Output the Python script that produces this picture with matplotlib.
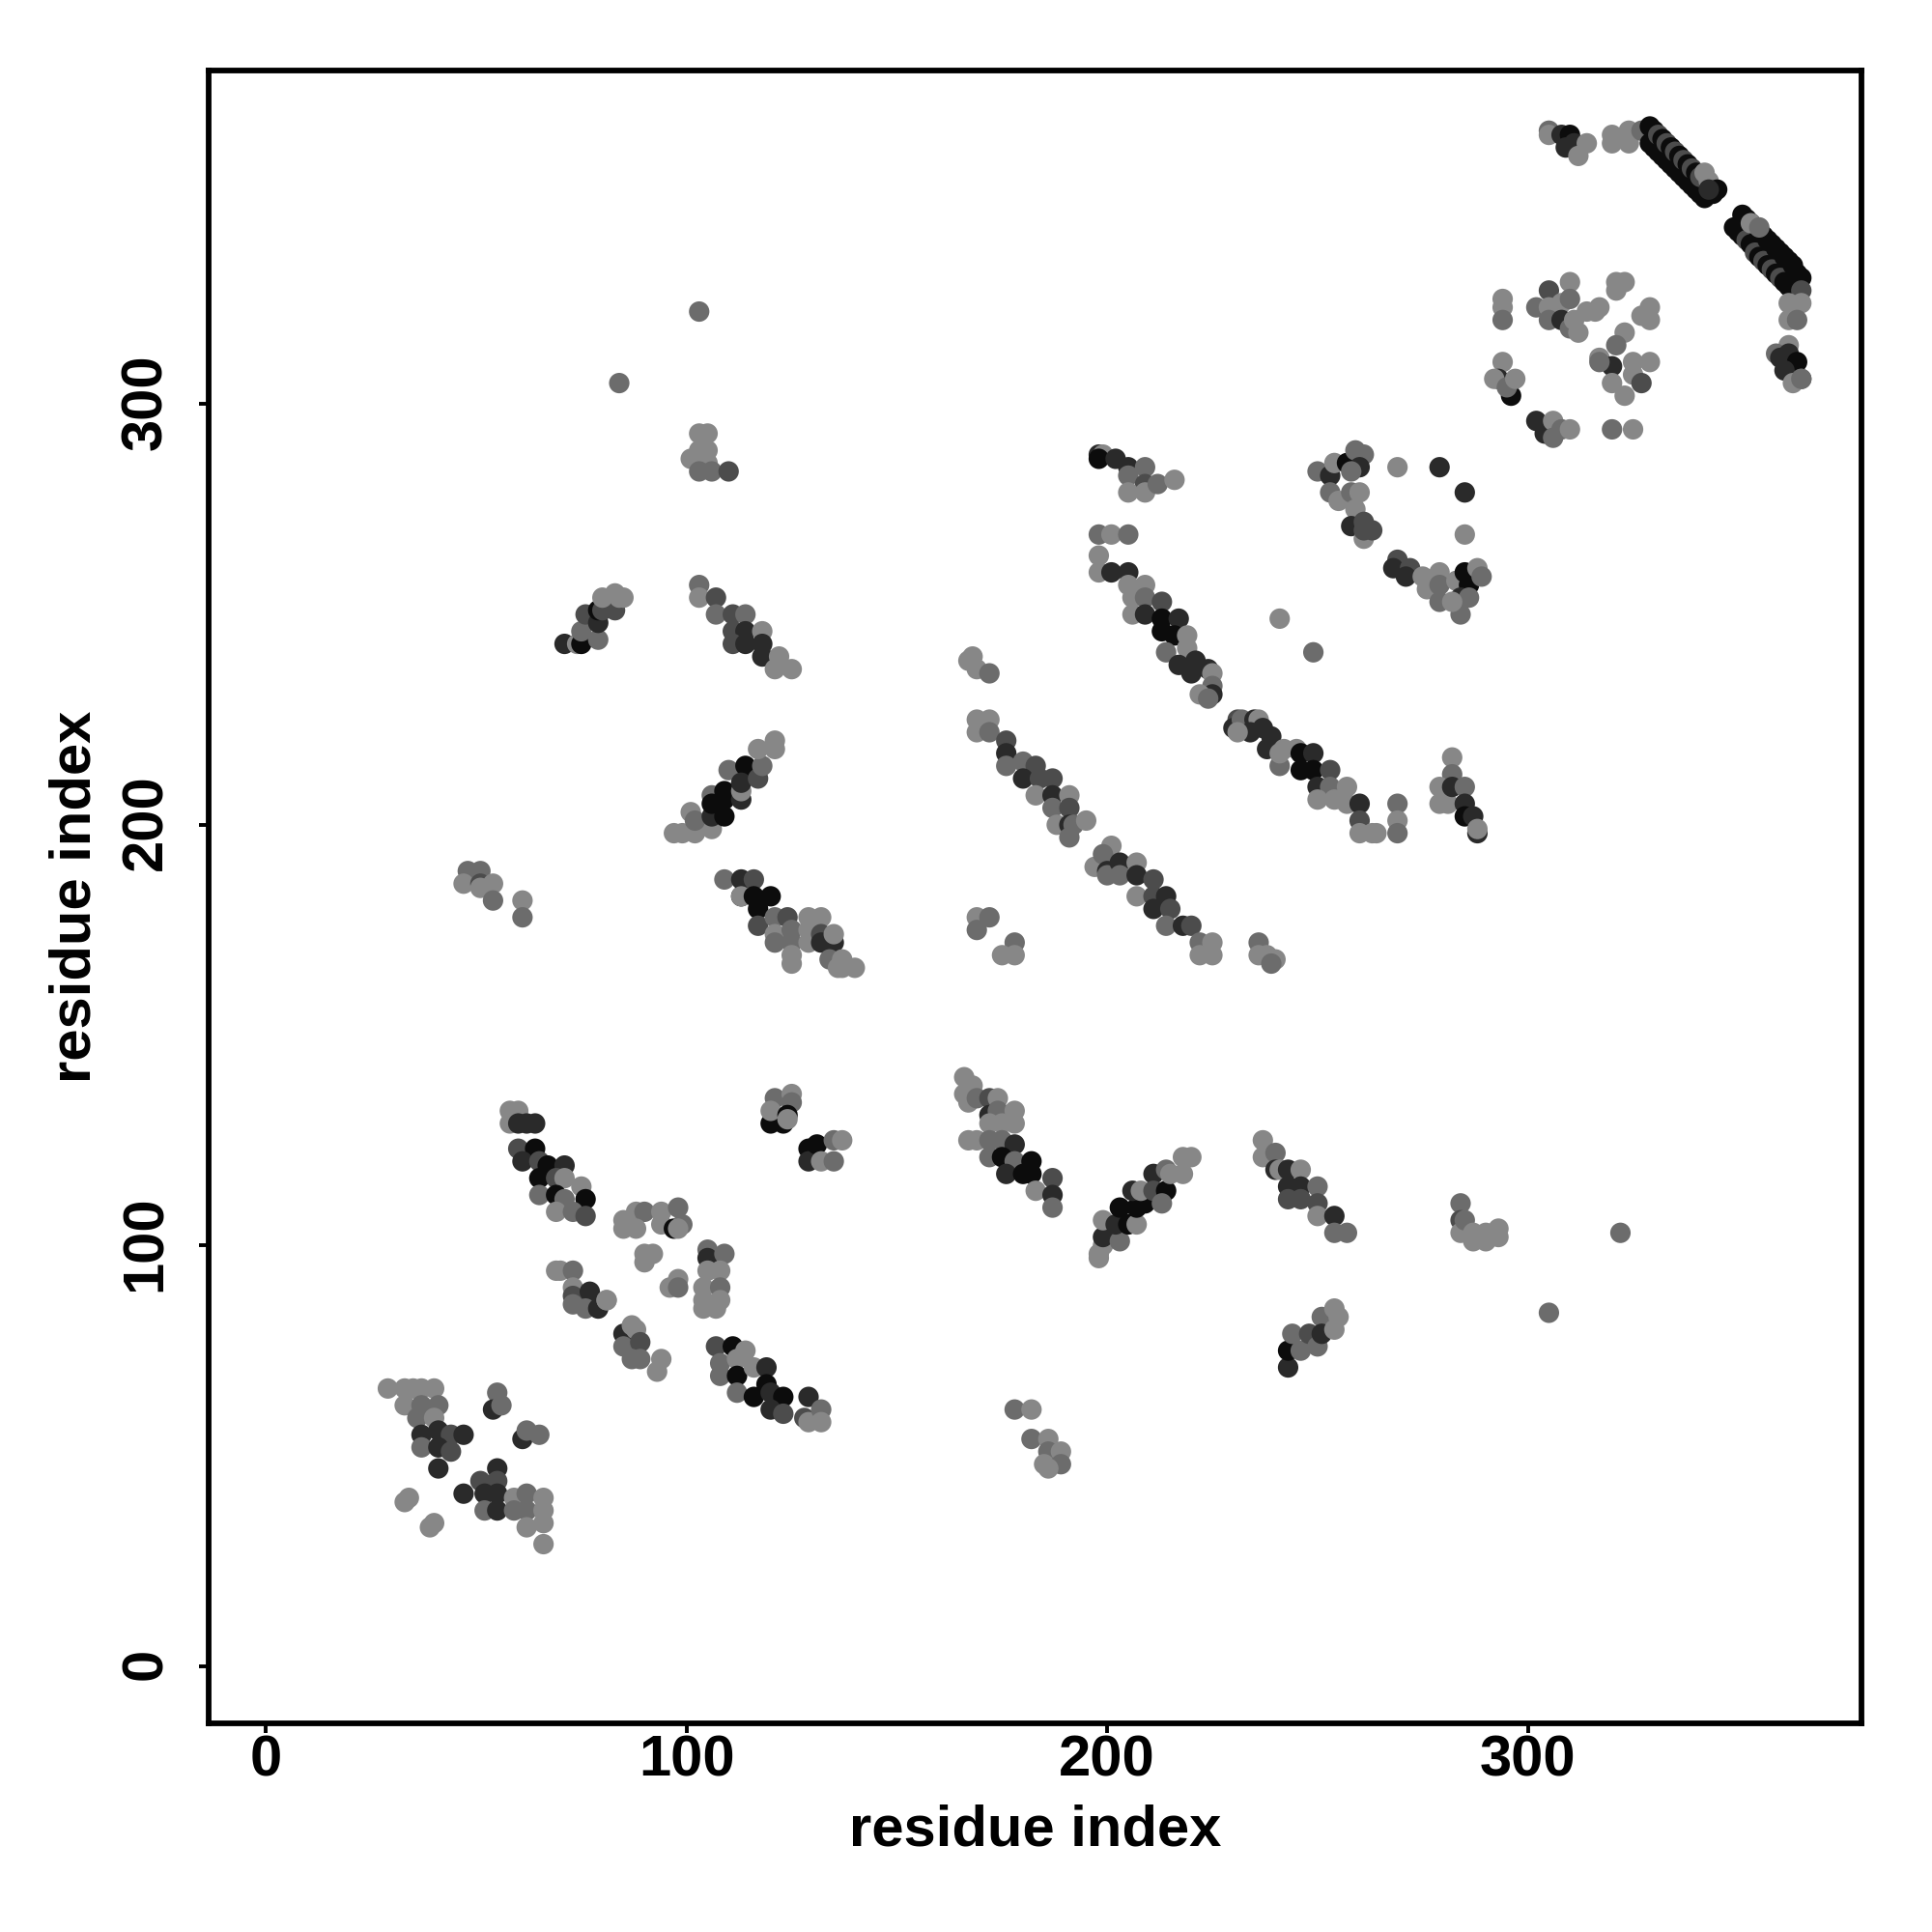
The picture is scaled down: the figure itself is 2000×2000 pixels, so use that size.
import matplotlib
matplotlib.use("Agg")
import matplotlib.pyplot as plt
from matplotlib.transforms import ScaledTranslation

# strength: 1 light ... 5 darkest
a_x = [29,33,35,37,40,33,37,41,36,40,37,41,44,47,37,41,44,41,55,54,56,61,62,65,55,51,55,47,52,55,52,55,59,62,59,62,66,66,62,66,66,33,34,39,40]
a_y = [66,66,66,66,66,62,62,62,59,59,55,56,55,55,52,52,51,47,65,61,62,54,56,55,47,44,44,41,41,41,37,37,40,41,37,37,40,37,33,34,29,39,40,33,34]
a_s = [1,1,1,1,1,1,2,2,2,1,4,4,3,4,2,4,3,4,2,4,2,4,2,2,4,3,3,4,4,4,2,4,1,2,2,2,1,1,1,1,1,1,1,1,1]

b_x = [58,60,58,60,62,64,60,64,61,65,67,71,65,69,71,65,69,71,75,76,69,73,76]
b_y = [132,132,129,129,129,129,123,123,120,120,119,119,116,116,116,112,112,111,114,111,108,108,107]
b_s = [1,1,1,4,4,4,3,5,4,3,5,4,5,3,1,2,5,2,1,5,1,2,3]

c_x = [85,85,88,90,88,94,94,98,97,99,98,105,105,109,105,108,104,108,104,108,104,107,90,92,90,96,98,98]
c_y = [106,104,108,108,104,108,105,109,104,105,104,99,97,98,94,94,90,90,87,87,85,85,98,98,96,90,92,90]
c_s = [1,1,1,2,1,1,1,2,5,2,1,2,4,2,1,1,1,2,1,1,1,1,1,1,1,1,1,2]

d_x = [69,70,73,73,73,73,77,76,79,81,81]
d_y = [94,94,94,90,88,86,89,85,85,87,87]
d_s = [1,1,2,1,3,2,4,2,4,1,1]

e_x = [85,85,87,88,89,87,89,94,93]
e_y = [79,76,81,80,77,73,73,73,70]
e_s = [4,2,1,1,3,2,2,1,1]

f_x = [107,111,108,114,112,108,112,112,116,119,116,119,120,123,120,123,129,128,129,132,132]
f_y = [76,76,72,75,73,69,69,65,71,71,64,67,65,64,61,60,64,59,58,61,58]
f_s = [3,5,2,1,1,2,5,2,1,4,5,5,4,5,4,3,4,3,1,2,1]

g_x = [120,123,121,120,125,125,124,124]
g_y = [129,129,135,132,136,134,131,130]
g_s = [5,5,2,1,1,2,5,1]

h_x = [129,129,131,132,135,137,135]
h_y = [123,120,124,120,125,125,120]
h_s = [5,4,5,1,2,1,2]

i_x = [166,168,166,168,167,169,172,174,172,174,178,172,175,178,167,169,172,175,178,172,175,178,176,180,182,182,183,187,187,187]
i_y = [140,138,136,135,134,135,135,135,131,132,132,129,129,129,125,125,125,125,124,121,121,120,117,117,120,117,113,116,112,109]
i_s = [1,1,1,1,1,2,3,1,4,2,1,1,1,1,1,1,2,2,4,2,5,2,4,5,5,5,1,3,4,2]

j_x = [198,198,199,199,199,203,202,203,205,207,207,209,206,208,211,211,214,213,214,215,218,218,220]
j_y = [97,98,100,102,106,101,105,109,105,105,109,110,113,113,117,113,113,110,118,117,117,121,121]
j_s = [1,1,1,4,1,2,4,5,5,1,5,5,4,1,4,3,5,2,2,1,1,1,1]

k_x = [237,237,240,240,241,243,246,243,246,243,246,250,250,250,254,254,257]
k_y = [125,121,122,118,118,118,118,114,114,111,111,114,110,107,107,103,103]
k_s = [1,1,2,4,1,4,1,4,4,3,3,2,3,1,4,2,2]

l_x = [178,182,182,186,186,185,189,189,186]
l_y = [61,61,54,54,51,48,51,48,47]
l_s = [2,1,2,1,2,1,1,2,1]

m_x = [243,243,244,246,248,250,251,251,254,254,255]
m_y = [71,75,79,75,79,76,83,79,80,85,83]
m_s = [4,5,2,2,3,2,2,4,1,1,1]

n_x = [284,284,284,285,287,287,290,290,293,293,322,305]
n_y = [110,106,103,106,103,101,101,103,102,104,103,84]
n_s = [2,3,1,2,1,1,1,1,1,1,2,2]

o_x = [71,74,75,79,75,76,79,79,80,83,80,83,85,84]
o_y = [243,243,243,244,246,250,248,251,251,251,254,255,254,254]
o_s = [4,1,5,2,2,3,4,5,3,3,1,1,1,1]

p_x = [103,103,107,107,111,114,111,114,111,114,118,118,118,122,121,125]
p_y = [257,254,254,250,250,250,246,246,243,243,246,243,240,240,237,237]
p_s = [2,1,3,2,3,2,3,4,3,4,1,4,4,1,1,1]

q_x = [97,99,102,106,101,102,106,106,109,109,106,109,113,113,110,114,113,117,118,117,121,121]
q_y = [198,198,198,199,203,201,207,202,202,208,205,206,206,208,213,214,210,211,214,218,220,218]
q_s = [1,1,1,1,1,2,2,4,5,5,5,5,4,1,2,5,4,3,2,1,1,1]

r_x = [109,113,116,113,113,116,120,117,117,121,124,121,125,121,125,125,125,129,132,129,129,132,132,135,135,134,137,137,136,140]
r_y = [187,187,187,183,183,183,183,180,176,178,178,174,175,172,172,169,167,178,178,175,172,174,172,172,174,168,168,166,166,166]
r_s = [2,4,3,5,1,5,5,5,3,2,3,1,2,2,2,1,1,1,1,1,1,3,4,4,1,2,1,1,1,1]

s_x = [48,51,47,51,51,54,54,61,61]
s_y = [189,189,186,186,185,186,182,182,178]
s_s = [2,2,1,3,1,1,2,1,2]

t_x = [198,199,198,202,205,205,209,209,205,209,212,216,198,201,205,198,198,201,205,209,205,206,209,213,206,209,213,217,213,216,219,214,219,217,221,220,224,225,225,225,222,224]
t_y = [288,288,287,287,285,283,285,281,279,279,281,282,269,269,269,264,260,260,260,257,257,254,254,253,250,250,249,249,246,245,245,241,242,238,239,236,237,236,233,231,231,230]
t_s = [4,1,5,4,4,2,2,3,1,1,2,1,2,1,2,1,1,4,4,1,1,1,2,3,1,4,5,4,5,5,1,2,1,4,4,4,4,1,2,4,1,2]

u_x = [168,167,169,172,169,172,169,172,176,176,176,180,183,180,184,187,183,187,191,187,191,188,191,192,195,191]
u_y = [240,239,237,236,225,225,222,222,220,217,214,215,214,211,211,211,207,207,207,204,204,200,200,200,201,197]
u_s = [1,1,1,2,1,1,1,2,3,4,2,2,3,4,3,3,1,4,1,2,3,1,4,2,1,2]

v_x = [201,197,199,200,200,203,203,207,207,211,207,211,214,211,215,214,218,220,222,225,222,225]
v_y = [195,190,193,189,188,191,188,191,188,187,183,183,183,180,180,176,176,176,172,172,169,169]
v_s = [1,1,2,4,2,4,2,1,4,3,1,3,4,4,3,2,4,3,2,1,1,1]

w_x = [169,172,169,178,175,178,236,236,238,240,239]
w_y = [178,178,175,172,169,169,172,169,169,168,167]
w_s = [1,2,2,2,1,1,2,1,1,1,2]

x_x = [231,230,232,235,236,234,237,231,239,238,242,245,241,241,246,249,246,249,253,250,253,257,250,254,257,260,260,260,263,264,269,269,269]
x_y = [225,223,225,225,225,222,223,222,221,218,218,218,214,217,217,217,213,213,213,209,209,209,206,206,205,205,201,198,198,198,205,201,198]
x_s = [3,4,2,4,1,4,4,1,4,4,1,1,2,1,5,4,5,5,3,4,2,1,1,1,1,4,3,1,1,1,2,1,2]

y_x = [282,282,279,279,281,282,285,285,285,287,288,288]
y_y = [216,212,209,205,205,209,209,205,202,202,198,199]
y_s = [1,2,1,1,1,4,2,4,5,4,4,1]

z_x = [241,249,269,279,285,285]
z_y = [249,241,285,285,279,269]
z_s = [1,2,1,4,4,1]

aa_x = [250,253,254,253,255,257,259,261,260,258,258,260,259,258,261,261,263,261]
aa_y = [284,283,286,279,277,286,289,288,285,284,279,279,275,271,272,268,270,270]
aa_s = [2,4,1,2,1,5,2,2,4,2,2,1,1,4,3,1,3,3]

ab_x = [269,268,272,271,275,279,276,279,279,283,285,286,288,289,284,286,284,282]
ab_y = [263,261,261,259,259,260,256,257,253,258,260,257,261,259,254,254,250,253]
ab_s = [3,4,3,4,1,1,1,2,2,1,5,5,1,2,4,2,2,1]

ac_x = [305,305,308,310,309,311,314,312,320,320,324,324,327]
ac_y = [365,364,364,364,361,362,362,359,364,362,365,362,365]
ac_s = [2,1,4,5,4,4,1,1,1,1,1,1,2]

ad_x = [329,329,330,330,331,331,332,332,333,333,334,334,335,335,336,336,337,337,338,338,339,339,340,340,341,341,342,343,342,344,345,343]
ad_y = [362,366,361,365,360,364,359,363,358,362,357,361,356,360,355,359,354,358,353,357,352,356,351,355,350,354,355,353,349,350,351,351]
ad_s = [5,5,5,5,5,3,5,5,5,3,5,5,5,3,5,5,5,3,5,5,5,3,5,5,5,3,1,1,5,5,5,4]

ae_x = [351,349,352,350,353,351,354,352,355,353,356,354,357,355,358,356,359,357,360,358,361,359,362,360,363,361,364,362,365,363,353,355]
ae_y = [345,342,344,341,343,340,342,339,341,338,340,336,339,335,338,334,337,333,336,332,335,331,334,330,333,329,331,328,330,328,343,342]
ae_s = [5,5,5,5,5,5,5,3,5,5,5,3,5,5,5,3,5,5,5,3,5,5,5,3,5,5,5,5,5,5,1,2]

af_x = [365,365,362,362,364,362,359,360,362,364,361,365,363,365]
af_y = [327,324,324,320,320,314,312,311,312,310,308,306,305,306]
af_s = [3,1,1,1,2,1,2,4,4,5,4,3,1,2]

ag_x = [294,294,294,305,310,302,305,305,308,310,308,310,311,312,314,317,316,321,323,321,329,327,329]
ag_y = [325,323,320,327,329,323,323,320,324,325,320,318,320,317,322,323,322,329,329,327,323,321,320]
ag_s = [1,1,2,3,1,2,1,2,1,2,4,2,1,1,1,1,1,1,1,1,1,1,1]

ah_x = [323,321,317,320,317,325,329,320,325,327,323,294,293,292,296,295,297,302,304,306,306,308,310,320,325]
ah_y = [317,314,311,309,310,310,310,305,307,305,302,310,306,306,302,304,306,296,293,296,292,294,294,294,294]
ah_s = [1,2,1,4,2,1,1,1,1,3,1,1,4,1,5,2,1,4,4,1,2,2,1,2,1]

ai_x = [103,105,103,105,101,105,103,106,110,103,84]
ai_y = [293,293,289,289,287,286,284,284,284,322,305]
ai_s = [1,1,1,1,1,1,2,2,3,2,2]

groups = [(a_x,a_y,a_s),(b_x,b_y,b_s),(c_x,c_y,c_s),(d_x,d_y,d_s),(e_x,e_y,e_s),(f_x,f_y,f_s),
          (g_x,g_y,g_s),(h_x,h_y,h_s),(i_x,i_y,i_s),(j_x,j_y,j_s),(k_x,k_y,k_s),(l_x,l_y,l_s),
          (m_x,m_y,m_s),(n_x,n_y,n_s),(o_x,o_y,o_s),(p_x,p_y,p_s),(q_x,q_y,q_s),(r_x,r_y,r_s),
          (s_x,s_y,s_s),(t_x,t_y,t_s),(u_x,u_y,u_s),(v_x,v_y,v_s),(w_x,w_y,w_s),(x_x,x_y,x_s),
          (y_x,y_y,y_s),(z_x,z_y,z_s),(aa_x,aa_y,aa_s),(ab_x,ab_y,ab_s),(ac_x,ac_y,ac_s),
          (ad_x,ad_y,ad_s),(ae_x,ae_y,ae_s),(af_x,af_y,af_s),(ag_x,ag_y,ag_s),(ah_x,ah_y,ah_s),
          (ai_x,ai_y,ai_s)]
ticks = [0, 100, 200, 300]
grays = {1: "#878787", 2: "#6c6c6c", 3: "#4c4c4c", 4: "#2a2a2a", 5: "#0c0c0c"}

plt.rcParams["font.family"] = ["Liberation Sans", "DejaVu Sans"]
fig = plt.figure(figsize=(10, 10), dpi=200)
ax = fig.add_axes([216/2000, 216/2000, 1711/2000, 1711/2000])
for gx, gy, gs in groups:
    ax.scatter(gx, gy, s=58, c=[grays[v] for v in gs], linewidths=0, zorder=3)
ax.set_xlim(-13.6, 379.3)
ax.set_ylim(-13.6, 379.3)
ax.set_xticks(ticks)
ax.set_yticks(ticks)
ax.set_xticklabels([str(t) for t in ticks], fontsize=21.5, fontweight="bold")
ax.set_yticklabels([str(t) for t in ticks], fontsize=21.5, fontweight="bold", rotation=90, va="center")
ax.tick_params(axis="both", length=3.6, width=1.4, color="black")
ax.tick_params(axis="x", pad=0.6)
ax.tick_params(axis="y", pad=9.7)
nudge = ScaledTranslation(0, 2.5 / 200, fig.dpi_scale_trans)
for lab in ax.get_yticklabels():
    lab.set_transform(lab.get_transform() + nudge)
for sp in ax.spines.values():
    sp.set_linewidth(2.1)
ax.set_xlabel("residue index", fontsize=21.5, fontweight="bold", labelpad=6)
ax.set_ylabel("residue index", fontsize=21.5, fontweight="bold", labelpad=6.5)
fig.savefig("out.png", dpi=200, facecolor="white")
